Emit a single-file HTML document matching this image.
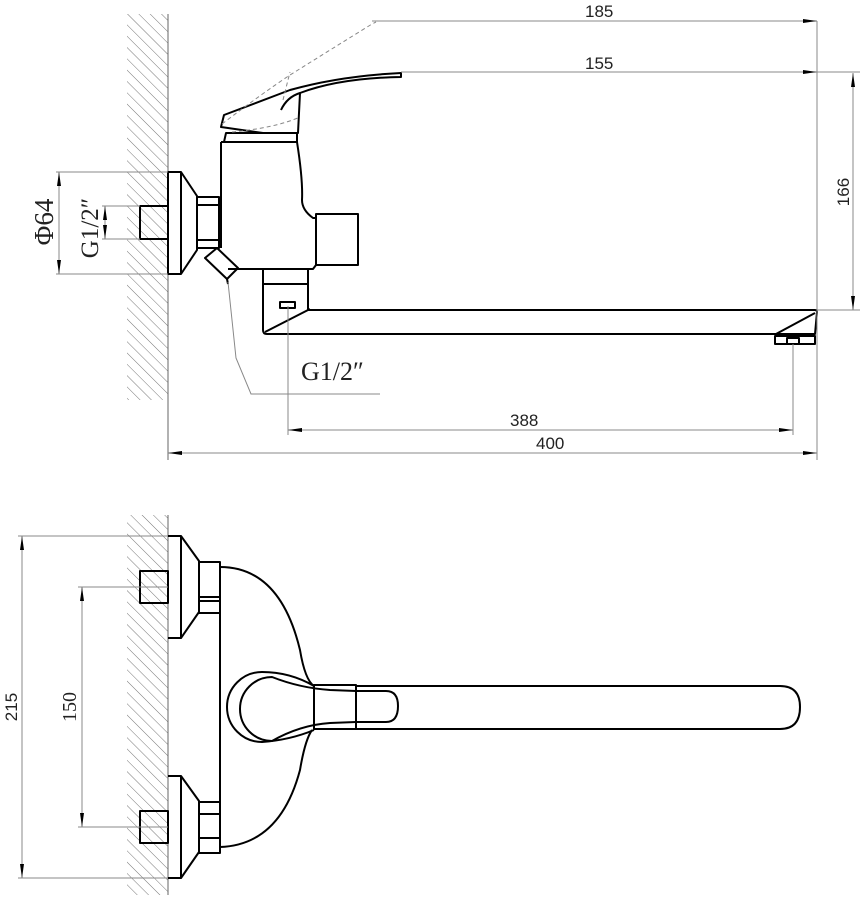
<!DOCTYPE html>
<html><head><meta charset="utf-8"><style>
html,body{margin:0;padding:0;background:#fff;}
svg{display:block}
.t{stroke:#000;stroke-width:2;fill:none;stroke-linejoin:round}
.d{stroke:#888;stroke-width:1;fill:none}
.dash{stroke:#888;stroke-width:1;fill:none;stroke-dasharray:4 3}
.sans{font-family:"Liberation Sans",sans-serif;font-size:17px;fill:#222}
.serif{font-family:"Liberation Serif",serif;font-size:24px;fill:#222}
</style></head><body>
<svg width="860" height="900" viewBox="0 0 860 900" xmlns="http://www.w3.org/2000/svg">
<defs>
<pattern id="h" width="8" height="8" patternUnits="userSpaceOnUse" patternTransform="rotate(-45)">
<line x1="0" y1="0" x2="0" y2="8" stroke="#777" stroke-width="1"/>
</pattern>
<marker id="a" markerWidth="14" markerHeight="6" refX="14" refY="3" orient="auto" markerUnits="userSpaceOnUse"><path d="M0,1 L14,3 L0,5z" fill="#000"/></marker>
<marker id="b" markerWidth="14" markerHeight="6" refX="0" refY="3" orient="auto" markerUnits="userSpaceOnUse"><path d="M14,1 L0,3 L14,5z" fill="#000"/></marker>
</defs>

<!-- TOP VIEW -->
<rect x="127" y="14" width="41" height="386" fill="url(#h)"/>
<line x1="168" y1="14" x2="168" y2="460" stroke="#666" stroke-width="1"/>
<rect x="140" y="206" width="28" height="33" fill="#fff" class="t"/>
<!-- flange -->
<path class="t" d="M168,172 L181,172 L197,196 L197,250 L181,274 L168,274 Z"/>
<line class="t" x1="181" y1="172" x2="181" y2="274"/>
<!-- nut -->
<rect class="t" x="197" y="197" width="22" height="51"/>
<line class="t" x1="197" y1="205" x2="219" y2="205"/>
<line class="t" x1="197" y1="240" x2="219" y2="240"/>
<!-- body -->
<path class="t" d="M221,142 L297,142 Q303,180 302,200 Q302,210 313,218 L316,218 M316,265 L313,269 L228,269 M221,142 L221,248"/>
<rect class="t" x="316" y="214" width="42" height="51"/>
<path class="t" d="M224,142 L226,133 L297,133 L297,142"/>
<!-- handle -->
<path class="t" d="M221,127 L224,115 L290,90 Q340,76 401,73 L401,77 Q340,78 300,93 L298,133 L263,133 Z"/>
<path class="t" d="M281,110 Q287,97 300,93"/>
<path class="dash" d="M222,124 Q260,95 290,75 Q330,50 372,24 L376,22 M232,132 Q275,128 300,117 M283,100 L290,72"/>
<!-- diverter -->
<path class="t" d="M205,258 L217,248 L238,268 L227,279 Z"/>
<line class="t" x1="227" y1="279" x2="228" y2="284"/>
<!-- under body -->
<path class="t" d="M263,269 L263,310 M308,269 L308,310 M263,284 L308,284"/>
<rect class="t" x="280" y="302" width="15" height="6"/>
<!-- spout -->
<path class="t" d="M263,310 L263,330 Q263,334 267,334 L776,334 L815,334 L817,312 Q817,310 815,310 L308,310"/>
<line class="t" x1="265" y1="332" x2="310" y2="309"/>
<line class="t" x1="776" y1="334" x2="815" y2="313"/>
<rect class="t" x="775" y="336" width="40" height="8"/>
<rect class="t" x="787" y="338" width="12" height="6"/>
<!-- leader -->
<path class="d" d="M228,282 L236,358 L251,394 L380,394"/>
<text class="serif" x="301" y="380" style="font-size:26px">G1/2″</text>
<!-- dims top -->
<line class="d" x1="372" y1="21" x2="817" y2="21" marker-end="url(#a)"/>
<text class="sans" x="585" y="17">185</text>
<line class="d" x1="401" y1="72" x2="817" y2="72" marker-end="url(#a)"/>
<text class="sans" x="585" y="69">155</text>
<line class="d" x1="817" y1="21" x2="817" y2="460"/>
<line class="d" x1="817" y1="72" x2="860" y2="72"/>
<line class="d" x1="817" y1="310" x2="860" y2="310"/>
<line class="d" x1="853" y1="73" x2="853" y2="310" marker-start="url(#b)" marker-end="url(#a)"/>
<text class="sans" transform="translate(849,192) rotate(-90)" text-anchor="middle">166</text>
<line class="d" x1="288" y1="306" x2="288" y2="435"/>
<line class="d" x1="793" y1="344" x2="793" y2="435"/>
<line class="d" x1="288" y1="430" x2="793" y2="430" marker-start="url(#b)" marker-end="url(#a)"/>
<text class="sans" x="510" y="426">388</text>
<line class="d" x1="168" y1="453" x2="817" y2="453" marker-start="url(#b)" marker-end="url(#a)"/>
<text class="sans" x="536" y="449">400</text>
<!-- left dims -->
<line class="d" x1="56" y1="172" x2="168" y2="172"/>
<line class="d" x1="56" y1="274" x2="168" y2="274"/>
<line class="d" x1="59" y1="172" x2="59" y2="274" marker-start="url(#b)" marker-end="url(#a)"/>
<line class="d" x1="102" y1="206" x2="140" y2="206"/>
<line class="d" x1="102" y1="239" x2="140" y2="239"/>
<line class="d" x1="105" y1="206" x2="105" y2="239" marker-start="url(#b)" marker-end="url(#a)"/>
<text class="serif" style="font-size:27px" transform="translate(53,222) rotate(-90)" text-anchor="middle">Φ64</text>
<text class="serif" style="font-size:25px" transform="translate(98,228) rotate(-90)" text-anchor="middle">G1/2″</text>

<!-- BOTTOM VIEW -->
<rect x="127" y="515" width="41" height="380" fill="url(#h)"/>
<line x1="168" y1="515" x2="168" y2="895" stroke="#666" stroke-width="1"/>
<rect x="140" y="571" width="28" height="32" fill="#fff" class="t"/>
<rect x="140" y="811" width="28" height="32" fill="#fff" class="t"/>
<path class="t" d="M168,536 L181,536 L199,561 L199,612 L181,638 L168,638"/>
<path class="t" d="M168,776 L181,776 L199,801 L199,852 L181,878 L168,878"/>
<line class="t" x1="181" y1="536" x2="181" y2="638"/>
<line class="t" x1="181" y1="776" x2="181" y2="878"/>
<rect class="t" x="199" y="562" width="21" height="51"/>
<line class="t" x1="199" y1="597" x2="220" y2="597"/>
<line class="t" x1="199" y1="601" x2="220" y2="601"/>
<rect class="t" x="199" y="802" width="21" height="51"/>
<line class="t" x1="199" y1="814" x2="220" y2="814"/>
<line class="t" x1="199" y1="838" x2="220" y2="838"/>
<line class="t" x1="220" y1="565" x2="220" y2="852"/>
<path class="t" d="M220,567 Q280,567 300,650 Q305,680 314,686"/>
<path class="t" d="M220,847 Q280,845 300,770 Q305,740 312,730"/>
<!-- handle -->
<path class="t" d="M314,686 Q290,672 262,672 A35,35 0 0 0 262,742 Q290,740 314,730"/>
<path class="t" d="M356,691 L386,691 Q398,691 398,706 Q398,722 386,722 L356,722 L330,723 Q300,725 272,741 A28,28 0 0 1 272,677 Q300,688 330,690 Z"/>
<rect class="t" x="314" y="685" width="42" height="44"/>
<path class="t" d="M356,686 L780,686 Q800,686 800,707 Q800,729 780,729 L356,729"/>
<!-- dims -->
<line class="d" x1="18" y1="536" x2="168" y2="536"/>
<line class="d" x1="18" y1="878" x2="168" y2="878"/>
<line class="d" x1="22" y1="536" x2="22" y2="878" marker-start="url(#b)" marker-end="url(#a)"/>
<text class="sans" transform="translate(17,707) rotate(-90)" text-anchor="middle">215</text>
<line class="d" x1="78" y1="587" x2="168" y2="587"/>
<line class="d" x1="78" y1="827" x2="168" y2="827"/>
<line class="d" x1="82" y1="587" x2="82" y2="827" marker-start="url(#b)" marker-end="url(#a)"/>
<text class="serif" style="font-size:20px" transform="translate(76,707) rotate(-90)" text-anchor="middle">150</text>
</svg>
</body></html>
